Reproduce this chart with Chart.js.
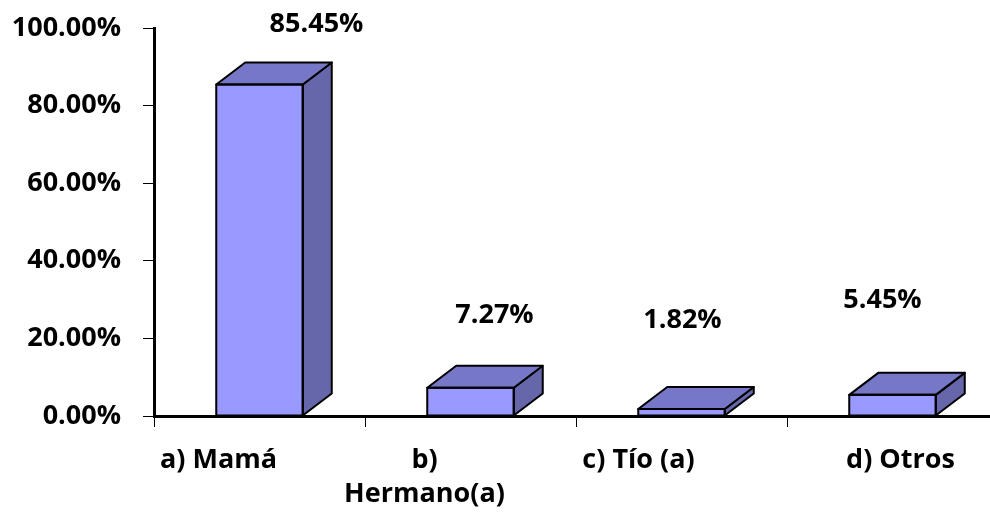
<!DOCTYPE html>
<html>
<head>
<meta charset="utf-8">
<script src="https://cdn.jsdelivr.net/npm/chart.js@4/dist/chart.umd.min.js"></script>
<style>
  html, body { margin: 0; padding: 0; background: #fff; overflow: hidden; }
</style>
</head>
<body>
<canvas id="myChart" width="1000" height="512"></canvas>
<script>
// data
const categories = [['a) Mamá'], ['b)', 'Hermano(a)'], ['c) Tío (a)'], ['d) Otros']];
const values = [85.45, 7.27, 1.82, 5.45];
const yTicks = [0, 20, 40, 60, 80, 100];

// look
const FONT = 'bold 27px "Open Sans"';
const frontColor = '#9999ff';
const topColor = '#7777c8';
const sideColor = '#6666aa';
const depthX = 29, depthY = 22;
// nudges so labels land where the original put them
const valueLabelDx = [57, 24, 1, -10];
const valueLabelDy = [-52, -65, -81, -87];
const catLabelDx = [-41, -46, -43, 8];

const bar3d = {
  id: 'bar3d',
  afterDatasetsDraw(chart) {
    const ctx = chart.ctx;
    const meta = chart.getDatasetMeta(0);
    ctx.save();
    ctx.lineWidth = 2;
    ctx.strokeStyle = '#000';
    ctx.lineJoin = 'round';
    meta.data.forEach(bar => {
      const l = bar.x - bar.width / 2, r = bar.x + bar.width / 2;
      const t = bar.y, b = bar.base;
      // side
      ctx.beginPath();
      ctx.moveTo(r, t);
      ctx.lineTo(r + depthX, t - depthY);
      ctx.lineTo(r + depthX, b - depthY);
      ctx.lineTo(r, b);
      ctx.closePath();
      ctx.fillStyle = sideColor;
      ctx.fill();
      ctx.stroke();
      // top
      ctx.beginPath();
      ctx.moveTo(l, t);
      ctx.lineTo(l + depthX, t - depthY);
      ctx.lineTo(r + depthX, t - depthY);
      ctx.lineTo(r, t);
      ctx.closePath();
      ctx.fillStyle = topColor;
      ctx.fill();
      ctx.stroke();
      // front outline
      ctx.strokeRect(l, t, r - l, b - t);
    });
    ctx.restore();
  },
  afterDraw(chart) {
    const ctx = chart.ctx;
    const meta = chart.getDatasetMeta(0);
    const xs = chart.scales.x;
    ctx.save();
    ctx.font = FONT;
    ctx.fillStyle = '#000';
    ctx.textAlign = 'center';
    ctx.textBaseline = 'alphabetic';
    meta.data.forEach((bar, i) => {
      ctx.fillText(values[i].toFixed(2) + '%', bar.x + valueLabelDx[i], bar.y + valueLabelDy[i]);
    });
    categories.forEach((lines, i) => {
      const x = xs.getPixelForValue(i) + catLabelDx[i];
      lines.forEach((txt, j) => {
        ctx.fillText(txt, x, 468 + j * 34);
      });
    });
    ctx.restore();
  }
};

new Chart(document.getElementById('myChart'), {
  type: 'bar',
  data: {
    labels: categories.map(c => c.join(' ')),
    datasets: [{
      data: values,
      backgroundColor: frontColor,
      borderWidth: 0,
      categoryPercentage: 1,
      barPercentage: 0.41
    }]
  },
  options: {
    responsive: false,
    animation: false,
    layout: { padding: { top: 28, right: 2, left: 0, bottom: 0 } },
    plugins: { legend: { display: false }, tooltip: { enabled: false } },
    scales: {
      x: {
        afterFit(scale) { scale.height = 96; scale.paddingLeft = 0; scale.paddingRight = 0; },
        ticks: { display: false },
        grid: { drawOnChartArea: false, tickLength: 11, color: '#000', lineWidth: 1 },
        border: { color: '#000', width: 3 }
      },
      y: {
        min: 0,
        max: 100,
        afterFit(scale) { scale.width = 154; scale.paddingTop = 0; scale.paddingBottom = 0; },
        afterBuildTicks(scale) { scale.ticks = yTicks.map(v => ({ value: v })); },
        ticks: {
          padding: 22,
          color: '#000',
          font: { family: 'Open Sans', weight: 'bold', size: 27 },
          callback: v => v.toFixed(2) + '%'
        },
        grid: { drawOnChartArea: false, tickLength: 11, color: '#000', lineWidth: 1 },
        border: { color: '#000', width: 3 }
      }
    }
  },
  plugins: [bar3d]
});
</script>
</body>
</html>
